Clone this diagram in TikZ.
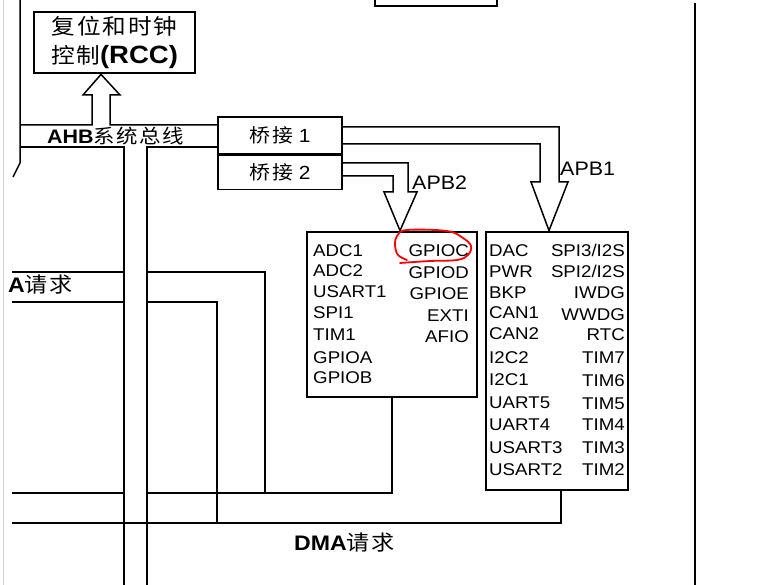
\documentclass[tikz,border=0pt]{standalone}
\usepackage{fontspec}
\setmainfont{Liberation Sans}[FakeStretch=1.1]
\newfontfamily\cjk{Noto Sans CJK SC}[FakeStretch=1.1,LetterSpace=8]
\usetikzlibrary{positioning}

\begin{document}
\begin{tikzpicture}[x=1pt,y=-1pt,
  bus/.style={line width=1.5pt},
  busthick/.style={line width=2.6pt},
  unitbox/.style={draw,line width=2.8pt,inner sep=0pt},
  bridgebox/.style={draw,line width=1.5pt,inner sep=0pt,minimum width=124pt,font=\fontsize{19}{22}\selectfont},
  reg/.style={inner sep=0pt,font=\fontsize{17}{20}\selectfont},
  rowL/.style={reg,anchor=base west},
  rowR/.style={reg,anchor=base east},
  lbl/.style={inner sep=0pt,anchor=base west,font=\fontsize{19.5}{22}\selectfont}]
\useasboundingbox (0,0) rectangle (763,585);

% frame
\draw[gray!35,line width=0.8pt] (3,0) -- (3,585);
\draw[bus] (695,3) -- (695,585);
\draw[busthick] (375,0) -- (375,6) -- (497,6) -- (497,0);
\draw[bus] (20,0) -- (20,163) -- (13,177);

% blocks
\node[unitbox,minimum width=161pt,minimum height=61pt,align=center,font=\fontsize{21.5}{29.5}\selectfont] (rcc) at (114.5,42.5)
  {{\cjk 复位和时钟}\\{\cjk 控制}{\fontsize{25}{29.5}\selectfont\bfseries(RCC)}};
\node[bridgebox,minimum height=37pt] (bridgeA) at (280,135.5) {{\cjk 桥接} 1};
\node[bridgebox,minimum height=34pt,below=0pt of bridgeA] (bridgeB) {{\cjk 桥接} 2};
\node[unitbox,minimum width=170pt,minimum height=165pt] (apbtwo) at (392,314.5) {};
\node[unitbox,minimum width=142pt,minimum height=258pt] (apbone) at (557,361) {};

\coordinate (rcctip) at (rcc.south -| 101,0);
\coordinate (tiptwo) at (apbtwo.north -| 400,0);
\coordinate (tipone) at (apbone.north -| 549,0);
\coordinate (ahbtop) at (20,125);
\coordinate (ahbbot) at (20,147);

% AHB bus
\draw[bus] (ahbtop) -- (92,125) -- (92,95) -- (83,95) -- (rcctip) -- (120,95) -- (110,95) -- (110,125) -- (bridgeA.west |- ahbtop);
\draw[bus] (ahbbot) -| (124,585);
\draw[bus] (147,585) |- (bridgeA.west |- ahbbot);

% APB1 / APB2
\draw[bus] (bridgeA.east |- 0,127) -| (559,182) -- (568,182) -- (tipone) -- (531,182) -- (540,182) |- (bridgeA.east |- 0,144);
\draw[bus] (bridgeB.east |- 0,163) -| (408,192) -- (417,192) -- (tiptwo) -- (384,192) -- (393,192) |- (bridgeB.east |- 0,176);

% DMA requests
\draw[bus] (12,272) -- (124,272);
\draw[bus] (147,272) -| (265,493);
\draw[busthick] (12,302) -- (124,302);
\draw[busthick] (147,302) -| (217,523);
\draw[bus] (12,493) -- (124,493);
\draw[bus] (147,493) -| (apbtwo.south);
\draw[busthick] (12,523) -| ([xshift=4pt]apbone.south);

% labels
\node[lbl] (ahblabel) at (47,143.5) {\textbf{AHB}{\cjk 系统总线}};
\node[lbl] (apbtwolabel) at (412,190) {APB2};
\node[lbl] (apbonelabel) at (560,176) {APB1};
\node[lbl,font=\fontsize{21}{24}\selectfont] (dmaleft) at (8,293) {\textbf{A}{\cjk 请求}};
\node[lbl,font=\fontsize{21}{24}\selectfont] (dmalabel) at (294,550) {\textbf{DMA}{\cjk 请求}};

% APB2 peripherals
\node[rowL] (adcone) at (313,257) {ADC1};
\node[below=20pt of adcone.base west,rowL] (adctwo) {ADC2};
\node[below=21pt of adctwo.base west,rowL] (usartone) {USART1};
\node[below=21pt of usartone.base west,rowL] (spione) {SPI1};
\node[below=22pt of spione.base west,rowL] (timone) {TIM1};
\node[below=22pt of timone.base west,rowL] (gpioa) {GPIOA};
\node[below=20pt of gpioa.base west,rowL] (gpiob) {GPIOB};
\node[rowR] (gpioc) at (469,257) {GPIOC};
\node[below=22pt of gpioc.base east,rowR] (gpiod) {GPIOD};
\node[below=21pt of gpiod.base east,rowR] (gpioe) {GPIOE};
\node[below=21pt of gpioe.base east,rowR] (exti) {EXTI};
\node[below=21pt of exti.base east,rowR] (afio) {AFIO};

% APB1 peripherals
\node[rowL] (dac) at (489,257) {DAC};
\node[below=21pt of dac.base west,rowL] (pwr) {PWR};
\node[below=21pt of pwr.base west,rowL] (bkp) {BKP};
\node[below=20pt of bkp.base west,rowL] (canone) {CAN1};
\node[below=20pt of canone.base west,rowL] (cantwo) {CAN2};
\node[below=24pt of cantwo.base west,rowL] (iictwo) {I2C2};
\node[below=22pt of iictwo.base west,rowL] (iicone) {I2C1};
\node[below=23pt of iicone.base west,rowL] (uartfive) {UART5};
\node[below=22pt of uartfive.base west,rowL] (uartfour) {UART4};
\node[below=23pt of uartfour.base west,rowL] (usartthree) {USART3};
\node[below=22pt of usartthree.base west,rowL] (usarttwo) {USART2};
\node[rowR] (spithree) at (625,257) {SPI3/I2S};
\node[below=21pt of spithree.base east,rowR] (spitwo) {SPI2/I2S};
\node[below=21pt of spitwo.base east,rowR] (iwdg) {IWDG};
\node[below=21pt of iwdg.base east,rowR] (wwdg) {WWDG};
\node[below=21pt of wwdg.base east,rowR] (rtc) {RTC};
\node[below=22pt of rtc.base east,rowR] (timseven) {TIM7};
\node[below=23pt of timseven.base east,rowR] (timsix) {TIM6};
\node[below=23pt of timsix.base east,rowR] (timfive) {TIM5};
\node[below=21pt of timfive.base east,rowR] (timfour) {TIM4};
\node[below=23pt of timfour.base east,rowR] (timthree) {TIM3};
\node[below=22pt of timthree.base east,rowR] (timtwo) {TIM2};

% red mark
\draw[red,line width=1.8pt,line cap=round] plot[smooth,tension=0.6] coordinates
  {(400,263) (430,261) (457,260) (468,255) (471,246) (463,238) (447,231) (407,230) (397,236) (395,245) (398,255) (407,260)};
\end{tikzpicture}
\end{document}
